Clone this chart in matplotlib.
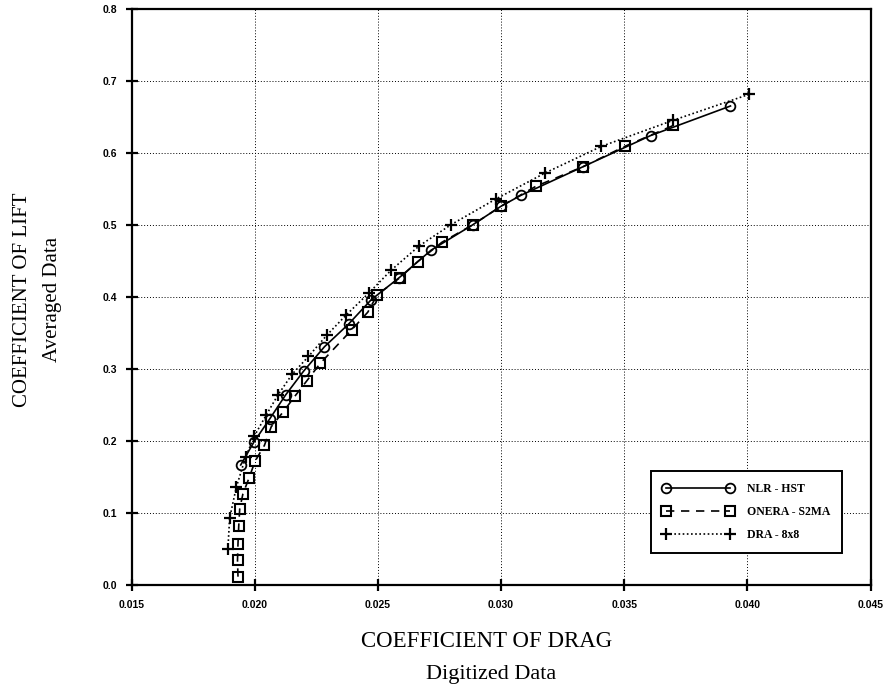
import matplotlib
matplotlib.use("Agg")
import matplotlib.pyplot as plt
from matplotlib.ticker import MultipleLocator, FormatStrFormatter

# NLR - HST
nlr_cd = [0.01943, 0.01997, 0.02061, 0.02125, 0.02198, 0.02283, 0.02381, 0.02472,
          0.02587, 0.02716, 0.02884, 0.03000, 0.03080, 0.03334, 0.03607, 0.03931]
nlr_cl = [0.167, 0.199, 0.231, 0.264, 0.297, 0.331, 0.3625, 0.396,
          0.427, 0.465, 0.500, 0.526, 0.541, 0.581, 0.624, 0.665]

# ONERA - S2MA
onera_cd = [0.01932, 0.01930, 0.01932, 0.01935, 0.01939, 0.01952, 0.01977, 0.02001,
            0.02039, 0.02067, 0.02114, 0.02162, 0.02212, 0.02266, 0.02394, 0.02459,
            0.02497, 0.02590, 0.02661, 0.02760, 0.02884, 0.03000, 0.03141, 0.03334,
            0.03502, 0.03699]
onera_cl = [0.012, 0.035, 0.058, 0.082, 0.106, 0.127, 0.149, 0.172,
            0.194, 0.220, 0.240, 0.262, 0.284, 0.308, 0.3546, 0.379,
            0.403, 0.427, 0.449, 0.476, 0.500, 0.526, 0.5536, 0.581,
            0.609, 0.638]

# DRA - 8x8
dra_cd = [0.01891, 0.01898, 0.01925, 0.01963, 0.01998, 0.02047, 0.02094, 0.02152,
          0.02218, 0.02294, 0.02371, 0.02463, 0.02553, 0.02668, 0.02797, 0.02979,
          0.03178, 0.03407, 0.03697, 0.04005]
dra_cl = [0.050, 0.093, 0.136, 0.178, 0.207, 0.2365, 0.264, 0.293,
          0.3175, 0.3476, 0.375, 0.4055, 0.437, 0.471, 0.5004, 0.536,
          0.572, 0.609, 0.645, 0.681]

labels = ["NLR - HST", "ONERA - S2MA", "DRA - 8x8"]

fig = plt.figure(figsize=(8.83, 6.90), dpi=100)
ax = fig.add_axes([0.149, 0.1517, 0.837, 0.8357])

ms = 7
ax.plot(nlr_cd, nlr_cl, color="black", linestyle="-", linewidth=1.2,
        marker="o", markersize=ms, markerfacecolor="none", markeredgewidth=1.3,
        label=labels[0])
ax.plot(onera_cd, onera_cl, color="black", linestyle=(0, (5, 4)), linewidth=1.2,
        marker="s", markersize=ms, markerfacecolor="none", markeredgewidth=1.5,
        label=labels[1])
ax.plot(dra_cd, dra_cl, color="black", linestyle=(0, (1, 1.5)), linewidth=1.2,
        marker="+", markersize=9, markeredgewidth=1.6,
        label=labels[2])

ax.set_xlim(0.015, 0.045)
ax.set_ylim(0.0, 0.8)
ax.xaxis.set_major_locator(MultipleLocator(0.005))
ax.yaxis.set_major_locator(MultipleLocator(0.1))
ax.xaxis.set_major_formatter(FormatStrFormatter("%.3f"))
ax.yaxis.set_major_formatter(FormatStrFormatter("%.1f"))

ax.grid(True, color="black", linestyle=(0, (1, 2)), linewidth=0.7)
for s in ax.spines.values():
    s.set_linewidth(1.6)
ax.tick_params(axis="both", direction="inout", length=9, width=1.6,
               labelsize=7.5, pad=6)
for lab in ax.get_xticklabels() + ax.get_yticklabels():
    lab.set_fontfamily("Liberation Sans")
    lab.set_fontweight("bold")

serif = "Liberation Serif"
fig.text(0.551, 0.071, "COEFFICIENT OF DRAG", ha="center", va="center",
         fontsize=16.5, family=serif)
fig.text(0.556, 0.023, "Digitized Data", ha="center", va="center",
         fontsize=16, family=serif)
fig.text(0.026, 0.566, "COEFFICIENT OF LIFT", ha="center", va="center",
         rotation=90, fontsize=15, family=serif)
fig.text(0.059, 0.566, "Averaged Data", ha="center", va="center",
         rotation=90, fontsize=15, family=serif)

leg = ax.legend(loc="lower right", bbox_to_anchor=(0.961, 0.056),
                numpoints=2, handlelength=6.0, handletextpad=1.1,
                borderpad=1.0, borderaxespad=0, labelspacing=0.95,
                fancybox=False, framealpha=1, edgecolor="black",
                prop={"family": "Liberation Serif", "size": 8.5, "weight": "bold"})
leg.get_frame().set_linewidth(1.4)

fig.savefig("out.png", dpi=100)
